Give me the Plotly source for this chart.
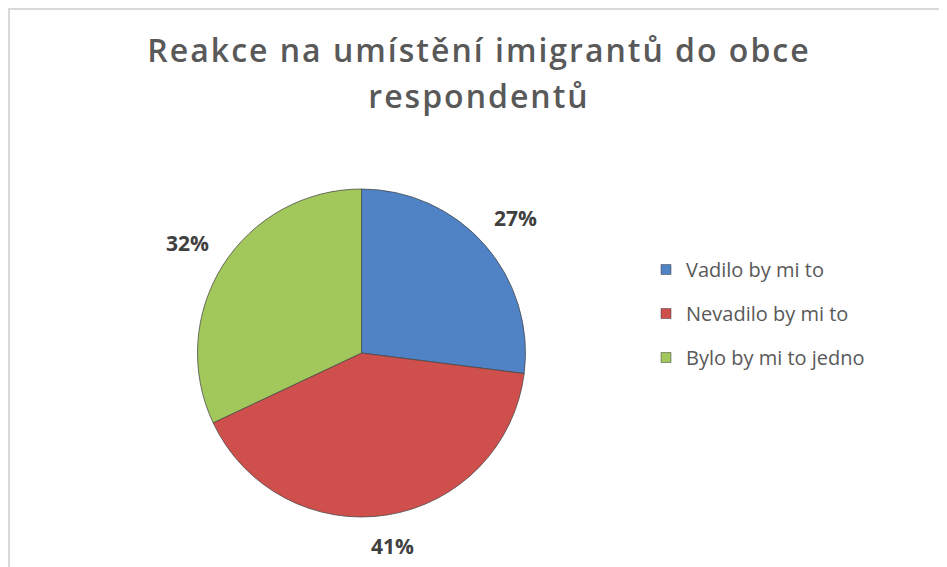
import math
import plotly.graph_objects as go

# ---- data ----
categories = ["Vadilo by mi to", "Nevadilo by mi to", "Bylo by mi to jedno"]
values = [27, 41, 32]
colors = ["#4F83C5", "#CF4F4C", "#A2C75B"]
title_lines = ["Reakce na umístění imigrantů do obce", "respondentů"]

OFF = 8                      # page margin of the html body
W, H = 947 - OFF, 567 - OFF  # figure size that fits in the window
cx, cy, r = 361.5 - OFF, 353.0 - OFF, 164.0  # pie centre / radius in figure pixels

fig = go.Figure()

fig.add_trace(go.Pie(
    labels=categories,
    values=values,
    sort=False,
    direction="clockwise",
    rotation=0,
    marker=dict(colors=colors, line=dict(color="rgba(70,70,70,0.75)", width=1)),
    textinfo="none",
    showlegend=False,
    domain=dict(x=[(cx - r) / W, (cx + r) / W], y=[1 - (cy + r) / H, 1 - (cy - r) / H]),
))

# legend entries (one group each so the spacing can match)
for name, col in zip(categories, colors):
    fig.add_trace(go.Scatter(
        x=[None], y=[None], mode="markers", name=name, legendgroup=name,
        marker=dict(symbol="square", size=10, color=col,
                    line=dict(color="rgba(60,60,60,0.5)", width=1)),
    ))

# percentage labels placed just outside the end of each slice, derived from the values
total = sum(values)
cum = 0.0
annotations = []
lw, lh, gap = 41.0, 16.0, 20.0
for v in values:
    mid = (cum + v / 2) / total * 2 * math.pi
    cum += v
    s, c = math.sin(mid), math.cos(mid)
    R = r + gap + (lw / 2) * abs(s) + (lh / 2) * abs(c)
    px = cx + R * s
    py = cy - R * c
    annotations.append(dict(
        x=px / W, y=1 - py / H, xref="paper", yref="paper",
        text=f"<b>{round(v / total * 100)}%</b>", showarrow=False,
        font=dict(family="Open Sans", size=21, color="#404040"),
        xanchor="center", yanchor="middle",
    ))

title_text = "<br>".join(
    f"<span style='font-size:32px;font-weight:600;letter-spacing:2px'>{t}</span>" for t in title_lines)

fig.update_layout(
    width=W, height=H,
    margin=dict(l=0, r=0, t=0, b=0),
    paper_bgcolor="white", plot_bgcolor="white",
    title=dict(text=title_text, x=(479 - OFF) / W, xanchor="center", y=1 - 54 / H, yanchor="top",
               font=dict(family="Open Sans", size=35, color="#595959")),
    xaxis=dict(visible=False), yaxis=dict(visible=False),
    legend=dict(x=(686 - OFF - 40) / W, xanchor="left", y=1 - (242 - OFF + 8) / H, yanchor="top",
                font=dict(family="Open Sans", size=20, color="#595959"),
                tracegroupgap=15, bgcolor="rgba(0,0,0,0)", itemclick=False),
    annotations=annotations,
    shapes=[
        dict(type="line", xref="paper", yref="paper", x0=0, x1=1, y0=1 - 1 / H, y1=1 - 1 / H,
             line=dict(color="#D9D9D9", width=2)),
        dict(type="line", xref="paper", yref="paper", x0=1 / W, x1=1 / W, y0=0, y1=1,
             line=dict(color="#D9D9D9", width=2)),
    ],
)

fig.write_html("out.html")
